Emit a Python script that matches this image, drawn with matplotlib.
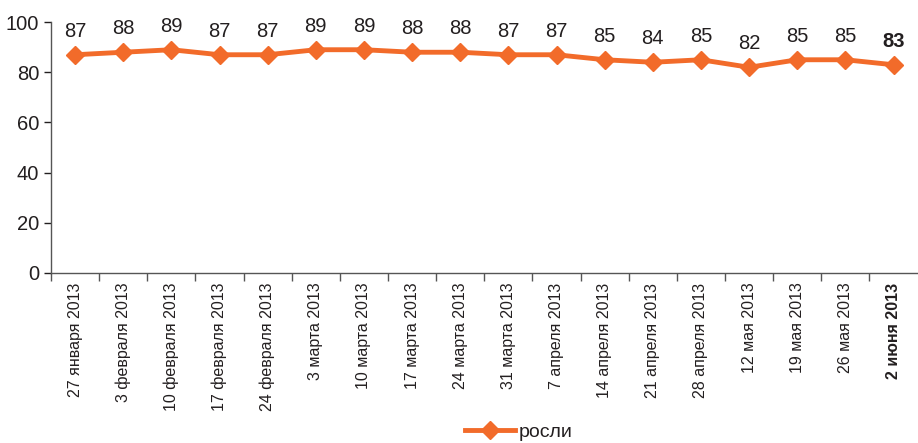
import matplotlib
matplotlib.use("Agg")
import matplotlib.pyplot as plt
from matplotlib import font_manager
import numpy as np

dates = ["27 января 2013", "3 февраля 2013", "10 февраля 2013", "17 февраля 2013",
         "24 февраля 2013", "3 марта 2013", "10 марта 2013", "17 марта 2013",
         "24 марта 2013", "31 марта 2013", "7 апреля 2013", "14 апреля 2013",
         "21 апреля 2013", "28 апреля 2013", "12 мая 2013", "19 мая 2013",
         "26 мая 2013", "2 июня 2013"]
rosli = [87, 88, 89, 87, 87, 89, 89, 88, 88, 87, 87, 85, 84, 85, 82, 85, 85, 83]
series_name = "росли"

names = {f.name for f in font_manager.fontManager.ttflist}
font = "Liberation Sans Narrow" if "Liberation Sans Narrow" in names else "Liberation Sans"
plt.rcParams["font.family"] = [font, "DejaVu Sans"]

orange = "#f26b2a"
text_col = "#231f20"

fig = plt.figure(figsize=(9.18, 4.43), dpi=100)
ax = fig.add_axes([0.0556, 0.384, 0.944, 0.566])

x = np.arange(len(dates))
ax.plot(x, rosli, color=orange, lw=3.5, marker="D", ms=9, label=series_name, zorder=3)

for i, v in enumerate(rosli):
    last = i == len(rosli) - 1
    ax.annotate(str(v), (i, v), xytext=(0, 10), textcoords="offset points",
                ha="center", va="bottom", fontsize=14.5, color=text_col,
                fontweight="bold" if last else "normal")

ax.set_xlim(-0.5, len(dates) - 0.5)
ax.set_ylim(0, 100)
ax.set_yticks(range(0, 101, 20))
ax.tick_params(axis="y", labelsize=14.5, colors=text_col, length=5, width=1)

ax.set_xticks(x)
ax.set_xticklabels(dates, rotation=90, fontsize=11.5, color=text_col, va="top")
ax.get_xticklabels()[-1].set_fontweight("bold")
ax.tick_params(axis="x", which="major", length=0, pad=7)
ax.set_xticks(np.arange(-0.5, len(dates) - 0.5), minor=True)
ax.tick_params(axis="x", which="minor", length=6, width=1, color="#555555")

for s in ["top", "right"]:
    ax.spines[s].set_visible(False)
for s in ["left", "bottom"]:
    ax.spines[s].set_color("#555555")
    ax.spines[s].set_linewidth(1)

fig.legend(loc="center", bbox_to_anchor=(0.565, 0.025), frameon=False,
           fontsize=14, handlelength=2.6, handletextpad=0.2, labelcolor=text_col)

fig.savefig("out.png", dpi=100)
